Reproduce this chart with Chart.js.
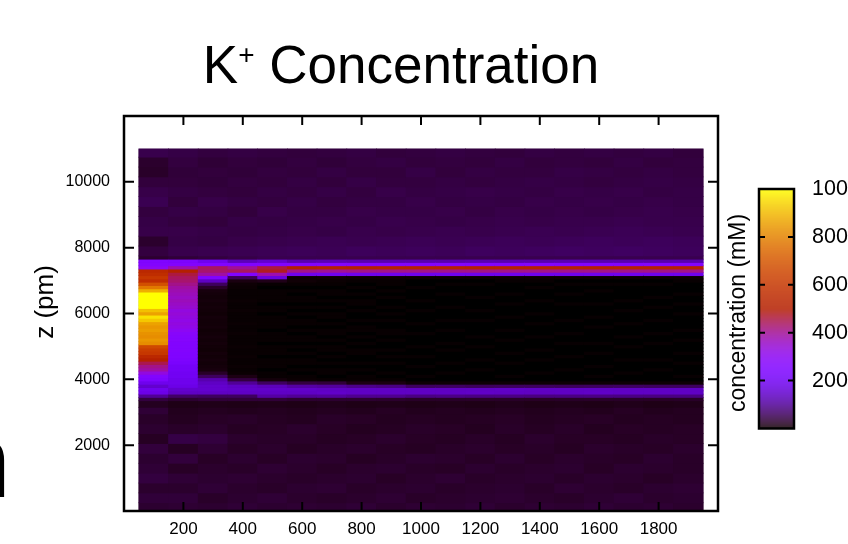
<!DOCTYPE html>
<html>
<head>
<meta charset="utf-8">
<script src="https://cdn.jsdelivr.net/npm/chart.js@4.4.0/dist/chart.umd.min.js"></script>
<style>
  html, body { margin: 0; padding: 0; background: #fff; overflow: hidden; }
  #wrap { position: relative; width: 848px; height: 544px; }
</style>
</head>
<body>
<div id="wrap"><canvas id="heat" width="848" height="544"></canvas></div>
<script>
// axis ticks
const xTicks = [200, 400, 600, 800, 1000, 1200, 1400, 1600, 1800];
const yTicks = [2000, 4000, 6000, 8000, 10000];
const cbTicks = [200, 400, 600, 800, 1000];

// columns (x) and row edges (z in pm)
const colCenters = [100, 200, 300, 400, 500, 600, 700, 800, 900, 1000, 1100, 1200, 1300, 1400, 1500, 1600, 1700, 1800, 1900];
const zEdges = [0, 250, 550, 850, 1150, 1450, 1750, 2050, 2350, 2650, 2950, 3150, 3350,
  3450, 3550, 3650, 3750, 3850, 3950, 4050, 4150, 4250, 4350, 4450, 4550, 4650, 4750, 4850, 4950,
  5050, 5150, 5250, 5350, 5450, 5550, 5650, 5750, 5850, 5950, 6050, 6150, 6250, 6350, 6450, 6550,
  6650, 6750, 6850, 6950, 7050, 7150, 7250, 7350, 7450, 7550, 7650, 7750,
  8050, 8350, 8650, 8950, 9250, 9550, 9850, 10150, 10450, 10750, 11000];

// K+ concentration (mM), one array per column, bottom -> top
// 12 coarse rows (0-3350), 44 rows of 100 pm (3350-7750), 11 coarse rows (7750-11000)
const k100 = [30,36,28,40,34,30,38,22,30,26,34,20,
  40,100,180,190,150,190,240,260,330,390,410,
  450,500,540,600,620,660,820,840,820,830,850,
  840,860,920,960,860,910,1000,1000,1000,1000,1000,
  880,780,680,560,600,560,540,300,260,250,30,
  40,28,46,44,40,52,46,38,26,28,48];
const k200 = [32,36,28,34,24,38,22,44,26,20,18,14,
  30,65,140,150,180,190,190,200,200,210,210,
  230,240,250,250,260,260,260,270,270,280,300,
  320,330,320,330,340,330,350,360,370,360,370,
  380,390,410,430,440,460,500,380,260,240,35,
  48,44,46,40,44,38,42,38,36,40,44];
const k300 = [30,26,34,30,28,24,32,40,28,24,20,15,
  35,60,140,150,150,140,120,60,25,8,6,
  5,7,5,6,4,5,6,5,7,5,4,
  6,5,5,6,4,5,6,5,7,5,6,
  8,25,60,140,250,390,430,440,250,190,40,
  50,42,44,38,42,46,40,36,38,34,40];
const k400 = [34,30,28,32,26,30,24,28,22,26,18,14,
  35,60,140,145,140,100,40,12,2,1,2,
  1,1,2,1,1,2,1,1,1,2,1,
  1,2,1,1,1,2,1,1,2,1,1,
  1,2,3,10,55,250,440,400,250,130,45,
  52,46,42,44,38,42,38,40,36,38,42];
const k500 = [30,34,26,28,32,24,28,26,24,22,20,15,
  35,110,140,145,130,60,6,1,1,0,1,
  1,1,0,1,1,1,0,1,1,1,0,
  1,1,1,1,0,1,1,0,1,1,1,
  1,0,1,15,170,380,480,460,250,150,50,
  54,48,44,42,46,40,42,38,40,36,40];
const k600 = [32,28,30,26,28,30,22,26,28,20,18,14,
  30,100,140,145,110,40,2,1,0,1,0,
  1,1,0,1,0,1,0,1,1,0,1,
  0,1,1,0,1,0,1,0,1,1,0,
  1,0,1,4,2,190,410,500,260,120,50,
  56,50,46,44,42,44,40,42,38,40,38];
const k700 = [30,26,32,28,24,28,26,22,24,26,20,16,
  30,105,145,140,105,35,1,0,1,1,0,
  1,0,1,0,1,1,0,1,0,1,1,
  0,1,0,1,1,0,1,0,1,0,1,
  1,0,1,2,3,195,400,510,265,125,50,
  54,52,44,46,42,40,44,38,42,36,40];
const k800 = [34,28,26,30,28,22,28,24,20,24,18,14,
  30,95,140,140,90,12,1,1,0,1,0,
  1,0,0,1,1,0,1,0,1,0,1,
  1,0,1,0,0,1,0,1,1,0,1,
  0,1,0,1,2,190,410,505,260,120,50,
  58,50,48,44,46,42,40,44,38,40,42];
const k900 = [28,32,28,24,30,26,24,28,22,20,22,15,
  28,95,140,140,85,10,1,0,1,0,0,
  1,0,1,0,1,0,0,1,0,1,1,
  0,0,1,0,1,0,1,0,0,1,0,
  1,0,1,1,2,190,410,510,260,120,50,
  56,52,46,48,44,42,46,40,38,42,38];
const k1000 = [32,26,30,28,26,30,22,24,26,22,18,14,
  25,85,140,140,60,3,0,1,0,0,1,
  0,0,1,0,0,1,0,0,0,1,0,
  0,1,0,0,0,1,0,0,1,0,0,
  0,1,0,0,2,190,410,510,260,120,50,
  58,54,48,46,44,46,42,40,44,38,40];
const k1100 = [30,28,26,32,24,28,26,22,24,20,20,15,
  25,88,140,138,62,3,0,0,1,0,0,
  1,0,0,0,1,0,1,0,0,0,1,
  0,0,1,0,0,0,1,0,0,0,1,
  0,0,1,0,2,192,408,512,262,118,50,
  56,52,50,44,46,42,44,42,38,40,42];
const k1200 = [34,30,28,26,30,24,28,26,20,22,18,14,
  26,85,142,140,58,3,0,0,0,1,0,
  0,1,0,0,0,1,0,0,1,0,0,
  0,0,1,0,0,1,0,0,0,1,0,
  0,0,1,0,2,188,412,508,258,122,50,
  60,54,48,46,42,44,46,40,42,38,40];
const k1300 = [28,32,30,28,26,30,24,22,26,24,20,16,
  25,86,140,142,60,3,0,1,0,0,0,
  1,0,0,1,0,0,0,1,0,0,1,
  0,0,0,1,0,0,0,1,0,0,1,
  0,0,0,1,2,190,410,510,260,120,50,
  58,56,50,48,46,42,44,42,40,42,38];
const k1400 = [32,28,26,30,28,24,26,28,22,20,18,14,
  24,84,138,140,60,3,0,0,1,0,0,
  0,1,0,0,1,0,0,0,1,0,0,
  0,1,0,0,1,0,0,0,1,0,0,
  0,1,0,1,2,190,410,512,262,120,50,
  60,54,52,46,44,46,42,44,40,38,42];
const k1500 = [30,26,32,26,30,28,22,24,26,22,20,15,
  25,85,140,140,58,3,0,0,0,1,0,
  0,0,1,0,0,0,1,0,0,1,0,
  0,0,1,0,0,0,0,1,0,0,1,
  0,0,1,0,2,188,408,510,260,122,50,
  62,56,50,48,46,44,46,42,44,40,40];
const k1600 = [34,30,28,30,24,26,28,24,20,24,18,14,
  26,86,142,140,60,3,0,1,0,0,1,
  0,0,0,1,0,0,1,0,0,0,0,
  1,0,0,1,0,0,0,1,0,0,0,
  1,0,1,0,2,190,410,508,258,120,50,
  60,58,52,48,44,46,44,40,42,38,42];
const k1700 = [30,34,26,28,30,24,26,22,24,20,22,16,
  25,85,140,138,62,3,0,0,1,0,0,
  0,1,0,0,0,1,0,0,1,0,0,
  0,1,0,0,0,1,0,0,1,0,0,
  0,0,1,0,2,192,410,510,260,120,50,
  62,56,54,50,46,44,46,42,40,42,40];
const k1800 = [32,28,30,24,28,30,24,26,22,22,18,14,
  24,84,140,140,60,3,0,0,0,1,0,
  0,1,0,0,0,0,1,0,0,1,0,
  0,0,1,0,0,0,1,0,0,1,0,
  0,0,1,0,2,190,412,510,262,118,50,
  60,58,52,48,48,46,42,44,42,38,42];
const k1900 = [28,30,32,28,26,26,28,24,24,20,20,15,
  25,85,140,140,60,3,0,1,0,0,0,
  1,0,0,1,0,0,0,1,0,0,1,
  0,0,0,0,1,0,0,1,0,0,1,
  0,0,0,1,2,190,410,510,260,120,50,
  58,56,50,48,46,44,44,42,40,40,38];
const columns = [k100, k200, k300, k400, k500, k600, k700, k800, k900, k1000,
  k1100, k1200, k1300, k1400, k1500, k1600, k1700, k1800, k1900];

const cbMin = 0, cbMax = 1000;

// gnuplot default palette (rgbformulae 7,5,15): black-blue-violet-red-yellow
function paletteRGB(v) {
  const t = Math.min(Math.max((v - cbMin) / (cbMax - cbMin), 0), 1);
  const r = Math.sqrt(t);
  const g = t * t * t;
  const b = Math.max(0, Math.sin(2 * Math.PI * t));
  return 'rgb(' + Math.round(r * 255) + ',' + Math.round(g * 255) + ',' + Math.round(b * 255) + ')';
}

// one floating bar per cell
const cells = [];
columns.forEach(function(col, i) {
  col.forEach(function(v, j) {
    if (j < zEdges.length - 1) cells.push({ x: colCenters[i], y: [zEdges[j], zEdges[j + 1]], v: v });
  });
});

const FONT = '"Liberation Sans", Arial, Helvetica, sans-serif';

const decorPlugin = {
  id: 'decor',
  beforeDatasetsDraw(chart) {
    // dark backing under the cells so seams don't show white
    const ctx = chart.ctx, xs = chart.scales.x, ys = chart.scales.y;
    const half = (colCenters[1] - colCenters[0]) / 2;
    const x0 = xs.getPixelForValue(colCenters[0] - half);
    const x1 = xs.getPixelForValue(colCenters[colCenters.length - 1] + half);
    const y0 = ys.getPixelForValue(zEdges[zEdges.length - 1]);
    const y1 = ys.getPixelForValue(zEdges[0]);
    ctx.save();
    ctx.fillStyle = paletteRGB(20);
    ctx.fillRect(x0, y0, x1 - x0, y1 - y0);
    ctx.restore();
  },
  afterDraw(chart) {
    const ctx = chart.ctx, a = chart.chartArea;
    const xs = chart.scales.x, ys = chart.scales.y;
    ctx.save();
    // frame
    ctx.strokeStyle = '#000';
    ctx.lineWidth = 2.5;
    ctx.strokeRect(a.left, a.top, a.right - a.left, a.bottom - a.top);
    // inward ticks, mirrored on top and right
    ctx.lineWidth = 2;
    ctx.beginPath();
    xTicks.forEach(function(v) {
      const px = xs.getPixelForValue(v);
      ctx.moveTo(px, a.bottom); ctx.lineTo(px, a.bottom - 9);
      ctx.moveTo(px, a.top); ctx.lineTo(px, a.top + 9);
    });
    yTicks.forEach(function(v) {
      const py = ys.getPixelForValue(v);
      ctx.moveTo(a.left, py); ctx.lineTo(a.left + 10, py);
      ctx.moveTo(a.right, py); ctx.lineTo(a.right - 10, py);
    });
    ctx.stroke();

    // y axis title
    ctx.fillStyle = '#000';
    ctx.font = '26px ' + FONT;
    ctx.textAlign = 'center';
    ctx.textBaseline = 'middle';
    ctx.save();
    ctx.translate(46, 302);
    ctx.rotate(-Math.PI / 2);
    ctx.fillText('z (pm)', 0, 0);
    ctx.restore();

    // colour box
    const cbL = 759, cbR = 794, cbT = 189, cbB = 428.5;
    const n = Math.round(cbB - cbT);
    for (let i = 0; i < n; i++) {
      const v = cbMin + (cbMax - cbMin) * (i + 0.5) / n;
      ctx.fillStyle = paletteRGB(v);
      ctx.fillRect(cbL, cbB - i - 1, cbR - cbL, 1.2);
    }
    ctx.strokeStyle = '#000';
    ctx.lineWidth = 2.5;
    ctx.strokeRect(cbL, cbT, cbR - cbL, cbB - cbT);
    ctx.lineWidth = 2;
    ctx.beginPath();
    ctx.fillStyle = '#000';
    ctx.font = '21.5px ' + FONT;
    ctx.textAlign = 'left';
    ctx.textBaseline = 'middle';
    cbTicks.forEach(function(v) {
      const py = cbB - (v - cbMin) / (cbMax - cbMin) * (cbB - cbT);
      if (v < cbMax) {
        ctx.moveTo(cbL, py); ctx.lineTo(cbL + 6, py);
        ctx.moveTo(cbR, py); ctx.lineTo(cbR - 6, py);
      }
      ctx.fillText(String(v), 812, py);
    });
    ctx.stroke();

    // colour box title
    ctx.font = '23px ' + FONT;
    ctx.textAlign = 'center';
    ctx.save();
    ctx.translate(739, 313);
    ctx.rotate(-Math.PI / 2);
    ctx.fillText('concentration (mM)', 0, 0);
    ctx.restore();

    // main title with superscript
    const big = '53px ' + FONT, small = '28px ' + FONT;
    ctx.textBaseline = 'alphabetic';
    ctx.textAlign = 'left';
    ctx.font = big;
    const wK = ctx.measureText('K').width;
    const wRest = ctx.measureText(' Concentration').width;
    ctx.font = small;
    const wPlus = ctx.measureText('+').width;
    let tx = 401 - (wK + wPlus + wRest) / 2;
    ctx.font = big;
    ctx.fillText('K', tx, 83);
    tx += wK;
    ctx.font = small;
    ctx.fillText('+', tx, 64);
    tx += wPlus;
    ctx.font = big;
    ctx.fillText(' Concentration', tx, 83);

    // letter cut off at the left edge (from a neighbouring panel)
    ctx.font = '104px ' + FONT;
    ctx.fillText('n', -47, 497);
    ctx.restore();
  }
};

Chart.defaults.color = '#000';
Chart.defaults.font.family = FONT;

new Chart(document.getElementById('heat').getContext('2d'), {
  type: 'bar',
  data: {
    datasets: [{
      label: 'K+ concentration',
      data: cells,
      backgroundColor: function(c) { return c.raw ? paletteRGB(c.raw.v) : '#000'; },
      borderWidth: 0,
      borderSkipped: false,
      barPercentage: 1,
      categoryPercentage: 1,
      inflateAmount: 0.4
    }]
  },
  options: {
    responsive: false,
    devicePixelRatio: 1,
    animation: false,
    events: [],
    layout: { padding: { top: 116, right: 130, left: 0, bottom: 0 } },
    plugins: { legend: { display: false }, tooltip: { enabled: false }, title: { display: false } },
    scales: {
      x: {
        type: 'linear',
        min: 0,
        max: 2000,
        offset: false,
        grid: { display: false, drawTicks: false, offset: false },
        border: { display: false },
        afterBuildTicks: function(s) { s.ticks = xTicks.map(function(v) { return { value: v }; }); },
        afterFit: function(s) { s.height = 33; },
        ticks: {
          maxRotation: 0,
          autoSkip: false,
          padding: 8,
          font: { size: 17 },
          callback: function(v) { return String(v); }
        }
      },
      y: {
        type: 'linear',
        min: 0,
        max: 12000,
        grid: { display: false, drawTicks: false },
        border: { display: false },
        afterBuildTicks: function(s) { s.ticks = yTicks.map(function(v) { return { value: v }; }); },
        afterFit: function(s) { s.width = 124; },
        ticks: {
          padding: 14,
          font: { size: 16 },
          callback: function(v) { return String(v); }
        }
      }
    }
  },
  plugins: [decorPlugin]
});
</script>
</body>
</html>
